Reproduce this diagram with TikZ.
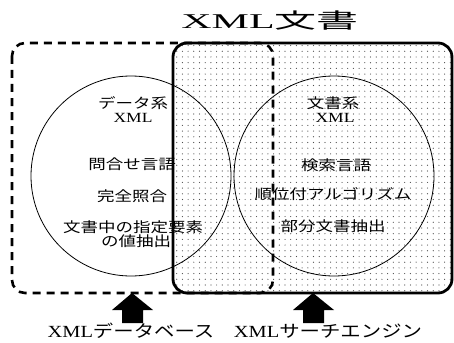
\documentclass[tikz,border=0pt]{standalone}
\usepackage{fontspec}
\usepackage{graphicx}
\setmainfont{Liberation Serif}
\newfontfamily\jp{Noto Sans CJK JP}
\usetikzlibrary{patterns.meta}
\tikzdeclarepattern{
  name=finedots,
  type=uncolored,
  bottom left={(-0.8pt,-0.8pt)},
  top right={(0.8pt,0.8pt)},
  tile size={(5.7pt,5.7pt)},
  code={\fill (0pt,0pt) circle (0.6pt);}
}
\newcommand{\hstr}[2]{\scalebox{#1}[1]{#2}}
\tikzset{
  inner/.style={inner sep=0pt, font=\jp\fontsize{14}{16}\selectfont},
  xmlin/.style={inner sep=0pt, font=\fontsize{14}{16}\selectfont},
  bottomlbl/.style={inner sep=0pt, font=\fontsize{17}{19}\selectfont},
  dashbox/.style={draw, line width=2.6pt, dash pattern=on 8pt off 6pt, rounded corners=13pt},
  solidbox/.style={draw, line width=2.8pt, rounded corners=14pt},
  venn/.style={draw, line width=0.8pt},
  blockarrow/.style={fill=black}
}
\begin{document}
\begin{tikzpicture}[x=1pt,y=-1pt]
\useasboundingbox (0,0) rectangle (454,342);
% patterned box
\fill[pattern=finedots, pattern color=black!70, rounded corners=14pt] (173,43) rectangle (452,293);
% circles
\draw[venn] (131,176) circle (100pt);
\draw[venn] (334,176) circle (100pt);
% dashed box
\draw[dashbox] (12,43) rectangle (273,293);
% solid box
\draw[solidbox] (173,43) rectangle (452,293);
% title
\node[inner sep=0pt] (title) at (270,21) {\hstr{2}{\fontsize{21}{24}\selectfont XML{\jp 文書}}};
% left texts
\node[inner] (dk) at (133,103) {\hstr{1.25}{データ系}};
\node[xmlin] (dx) at (133,118) {\hstr{1.25}{XML}};
\node[inner] (l1) at (132,164) {\hstr{1.25}{問合せ言語}};
\node[inner] (l2) at (132,196) {\hstr{1.25}{完全照合}};
\node[inner] (l3) at (133,227) {\hstr{1.25}{文書中の指定要素}};
\node[inner] (l4) at (136,241) {\hstr{1.25}{の値抽出}};
% right texts
\node[inner] (bk) at (333,103) {\hstr{1.25}{文書系}};
\node[xmlin] (bx) at (335,118) {\hstr{1.25}{XML}};
\node[inner] (r1) at (336,165) {\hstr{1.25}{検索言語}};
\node[inner] (r2) at (333,194) {\hstr{1.25}{順位付アルゴリズム}};
\node[inner] (r3) at (333,226) {\hstr{1.25}{部分文書抽出}};
% arrows
\fill[blockarrow] (132,293) -- (153,310) -- (143,310) -- (143,323) -- (122,323) -- (122,310) -- (112,310) -- cycle;
\fill[blockarrow] (313,293) -- (334,310) -- (324,310) -- (324,323) -- (303,323) -- (303,310) -- (293,310) -- cycle;
% bottom labels
\node[bottomlbl] (dbl) at (131,331) {\hstr{1.2}{XML{\jp データベース}}};
\node[bottomlbl] (sel) at (328,331) {\hstr{1.2}{XML{\jp サーチエンジン}}};
\end{tikzpicture}
\end{document}
